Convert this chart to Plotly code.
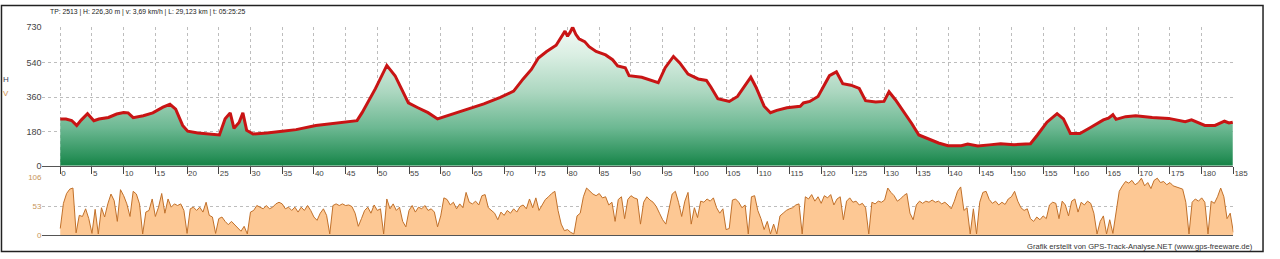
import plotly.graph_objects as go

# ---------------- data ----------------
elev_km = [0, 0.9, 1.8, 2.6, 3.3, 4.3, 5.3, 6.1, 7.6, 8.9,
           10.0, 10.7, 11.5, 13.1, 14.6, 16.2, 17.3, 18.2, 19.3, 20.1,
           21.7, 23.2, 25.1, 26.0, 26.8, 27.4, 28.2, 28.8, 29.4, 30.4,
           32.6, 35.0, 37.2, 40.3, 43.5, 46.8, 47.6, 49.7, 51.5, 52.8,
           53.8, 54.9, 56.4, 58.0, 59.5, 61.6, 64.2, 66.8, 69.4, 71.5,
           73.0, 74.3, 75.4, 76.7, 78.2, 78.8, 79.6, 80.0, 80.4, 80.8,
           81.3, 81.8, 82.7, 83.4, 84.5, 86.0, 87.1, 87.9, 89.1, 89.7,
           91.7, 94.3, 95.4, 96.7, 97.7, 99.0, 100.6, 101.9, 102.6, 103.7,
           105.5, 106.8, 108.1, 108.9, 109.7, 111.0, 112.0, 113.0, 114.6, 116.7,
           117.2, 118.2, 119.5, 120.3, 121.3, 122.4, 123.4, 124.7, 126.0, 127.0,
           128.6, 129.9, 130.7, 131.7, 133.3, 134.3, 135.4, 136.9, 138.5, 140.0,
           142.1, 143.1, 144.7, 146.5, 148.3, 150.4, 153.0, 154.1, 155.6, 157.2,
           158.2, 159.3, 160.8, 162.4, 164.5, 165.3, 166.0, 166.5, 168.0, 169.6,
           172.2, 174.8, 177.4, 178.4, 180.5, 182.1, 183.6, 184.3, 184.9]
elev_m = [246, 246, 238, 212, 240, 274, 237, 246, 254, 272,
          280, 278, 253, 263, 278, 308, 323, 298, 212, 182,
          172, 167, 162, 247, 278, 197, 227, 278, 187, 167,
          172, 182, 190, 212, 224, 237, 279, 405, 527, 473,
          405, 330, 305, 279, 246, 268, 296, 325, 359, 392,
          456, 506, 566, 600, 633, 667, 707, 680, 700, 728,
          690, 667, 652, 625, 600, 582, 557, 524, 515, 473,
          465, 436, 515, 574, 540, 481, 456, 448, 414, 352,
          338, 364, 431, 465, 414, 313, 279, 291, 305, 313,
          330, 338, 364, 414, 473, 493, 431, 423, 406, 342,
          335, 338, 389, 347, 271, 221, 162, 140, 120, 106,
          106, 114, 104, 110, 116, 111, 116, 162, 229, 274,
          246, 170, 170, 200, 241, 250, 268, 244, 258, 263,
          254, 249, 232, 241, 212, 212, 234, 225, 229]

# speed (km/h) sampled every 0.5 km from 0 to 185 km
speed_0_45 = [12, 58, 76, 84, 86, 4, 36, 34, 48, 30,
              3, 47, 2, 50, 33, 57, 75, 63, 25, 83,
              72, 57, 34, 80, 75, 57, 2, 42, 45, 66,
              34, 51, 76, 40, 66, 51, 57, 54, 57, 45,
              3, 48, 51, 45, 51, 42, 60, 36, 33, 3,
              30, 33, 25, 19, 25, 19, 13, 7, 16, 2,
              42, 45, 54, 51, 48, 54, 48, 51, 57, 60,
              57, 48, 51, 45, 51, 42, 51, 45, 54, 45,
              33, 27, 40, 48, 36, 2, 54, 57, 54, 57,
              54]
speed_45_90 = [55, 52, 40, 16, 30, 45, 51, 40, 55, 45,
               48, 2, 66, 48, 57, 45, 51, 25, 15, 45,
               54, 42, 51, 48, 54, 45, 48, 42, 15, 35,
               68, 65, 55, 60, 48, 57, 50, 78, 60, 57,
               62, 55, 72, 74, 50, 45, 40, 28, 42, 36,
               45, 40, 48, 42, 52, 55, 48, 66, 50, 68,
               45, 55, 65, 70, 76, 80, 45, 20, 8, 10,
               5, 2, 35, 40, 70, 86, 80, 75, 72, 76,
               68, 70, 55, 60, 25, 65, 70, 30, 65, 72]
speed_90_138 = [68, 66, 20, 60, 70, 64, 60, 52, 40, 28,
                20, 45, 75, 80, 60, 34, 62, 78, 20, 50,
                32, 62, 60, 66, 62, 68, 50, 40, 48, 10,
                12, 64, 66, 60, 50, 55, 2, 70, 72, 45,
                30, 10, 25, 2, 20, 2, 35, 40, 45, 48,
                50, 55, 57, 2, 70, 66, 74, 62, 70, 58,
                72, 68, 74, 55, 66, 70, 28, 62, 68, 60,
                62, 55, 58, 50, 2, 60, 57, 62, 60, 64,
                86, 78, 72, 62, 66, 72, 76, 40, 28, 55,
                62, 58, 62, 60, 64, 60]
speed_138_185 = [62, 57, 60, 55, 48, 62, 80, 88, 45, 50,
                 2, 48, 2, 60, 78, 80, 65, 58, 62, 55,
                 60, 56, 66, 70, 80, 62, 50, 45, 48, 30,
                 25, 33, 28, 35, 30, 55, 60, 58, 30, 62,
                 55, 35, 62, 66, 42, 60, 55, 62, 58, 40,
                 2, 25, 35, 2, 28, 3, 45, 80, 90, 98,
                 95, 100, 92, 96, 104, 90, 96, 85, 100, 104,
                 96, 98, 92, 96, 90, 88, 86, 84, 60, 2,
                 60, 66, 62, 68, 60, 2, 62, 58, 70, 86,
                 70, 30, 40, 5]
speed_kmh = speed_0_45 + speed_45_90 + speed_90_138 + speed_138_185
speed_km = [i * 0.5 for i in range(len(speed_kmh))]

x_ticks = list(range(0, 186, 5))
h_ticks = [0, 180, 360, 540, 730]
v_ticks = [0, 53, 106]

header = "TP: 2513 | H: 226,30 m | v: 3,69 km/h | L: 29,123 km | t: 05:25:25"
credit = "Grafik erstellt von GPS-Track-Analyse.NET (www.gps-freeware.de)"

# ---------------- figure ----------------
W, H = 1280, 259
def px_x(p):
    return p / W
def px_y(p):
    return 1 - p / H

fig = go.Figure()

fig.add_trace(go.Scatter(
    x=elev_km, y=elev_m, mode="lines", xaxis="x", yaxis="y",
    line=dict(color="#c81414", width=3),
    fill="tozeroy",
    fillgradient=dict(type="vertical", start=0, stop=730,
                      colorscale=[[0, "#067836"], [0.1, "#2a915a"], [0.3, "#6cb892"],
                                  [0.55, "#acd7c0"], [0.8, "#d9eee2"], [1, "#f4faf6"]]),
    hoverinfo="skip", showlegend=False))

fig.add_trace(go.Scatter(
    x=speed_km, y=speed_kmh, mode="lines", xaxis="x2", yaxis="y2",
    line=dict(color="#c0702a", width=1),
    fill="tozeroy", fillcolor="#fdc894",
    hoverinfo="skip", showlegend=False))

xr = [-2.8, 185]
dom_x = [px_x(43), px_x(1248)]
grid_col = "#bdbdbd"

fig.update_layout(
    width=W, height=H,
    margin=dict(l=0, r=0, t=0, b=0),
    paper_bgcolor="white", plot_bgcolor="white",
    font=dict(family="Liberation Sans, Arial, sans-serif", color="#333"),
    xaxis=dict(domain=dom_x, range=xr, tickvals=x_ticks, ticktext=[str(t) for t in x_ticks],
               ticks="outside", ticklen=7, tickcolor="#444", tickwidth=1,
               ticklabelposition="outside right", tickfont=dict(size=8, color="#444"),
               showgrid=True, gridcolor=grid_col, griddash="dot", gridwidth=1,
               showline=True, linecolor="#555", linewidth=1, zeroline=False,
               anchor="y", fixedrange=True),
    yaxis=dict(domain=[px_y(167.3), px_y(22.6)], range=[0, 730], tickvals=h_ticks,
               tickfont=dict(size=9, color="#444"), ticks="",
               showgrid=True, gridcolor=grid_col, griddash="dot", gridwidth=1,
               zeroline=False, showline=False, anchor="x", fixedrange=True),
    xaxis2=dict(domain=dom_x, range=xr, showticklabels=False, ticks="",
                showgrid=False, showline=True, linecolor="#555", linewidth=1,
                zeroline=False, anchor="y2", fixedrange=True),
    yaxis2=dict(domain=[px_y(239.3), px_y(179)], range=[0, 106], tickvals=v_ticks,
                tickfont=dict(size=8, color="#c8965a"), ticks="",
                showgrid=True, gridcolor=grid_col, griddash="dot", gridwidth=1,
                zeroline=False, showline=False, anchor="x2", fixedrange=True),
)

ann = [
    dict(text=header, x=px_x(49), y=px_y(7), xanchor="left", yanchor="middle",
         font=dict(size=6.8, color="#222")),
    dict(text="H", x=px_x(6), y=px_y(78), xanchor="center", yanchor="middle",
         font=dict(size=8, color="#3b3f58")),
    dict(text="V", x=px_x(6), y=px_y(92), xanchor="center", yanchor="middle",
         font=dict(size=8, color="#d0924e")),
    dict(text=credit, x=px_x(1270), y=px_y(251), xanchor="right", yanchor="middle",
         font=dict(size=7.6, color="#333")),
]
for a in ann:
    a.update(xref="paper", yref="paper", showarrow=False)
fig.update_layout(annotations=ann)

fig.add_shape(type="rect", xref="paper", yref="paper",
              x0=px_x(1.5), x1=px_x(1278), y0=px_y(256.5), y1=px_y(0.5),
              line=dict(color="#222", width=1.5), fillcolor="rgba(0,0,0,0)", layer="above")

fig.write_html("out.html")
